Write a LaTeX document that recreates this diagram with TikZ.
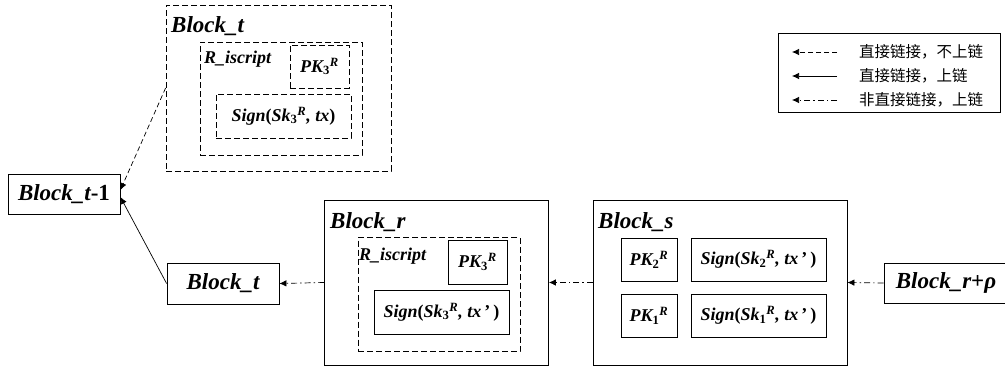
\documentclass[tikz,border=0pt]{standalone}
\usepackage{fontspec}
\setmainfont{Liberation Serif}
\newfontfamily\cjk{Noto Sans CJK SC}
\usetikzlibrary{arrows, arrows.meta}

\tikzset{
	blk/.style={draw, rectangle, line width=0.8pt, inner sep=0pt},
	dblk/.style={blk, dash pattern=on 6pt off 3pt},
	lbl/.style={inner sep=0pt, anchor=base west, font=\fontsize{23}{25}\selectfont\bfseries\itshape},
	sml/.style={font=\fontsize{18}{20}\selectfont\bfseries\itshape},
	big/.style={font=\fontsize{23}{25}\selectfont\bfseries\itshape},
	ddash/.style={line width=0.7pt, dash pattern=on 5pt off 3pt},
	dchain/.style={line width=0.7pt, dash pattern=on 6pt off 3pt on 1.5pt off 3pt},
	chain/.style={line width=0.7pt},
	legtxt/.style={inner sep=0pt, anchor=west, font=\fontsize{15.5}{17}\selectfont\cjk}
}
\newcommand{\keyrs}[2]{#1\textsubscript{\upshape #2}\textsuperscript{R}}

\begin{document}
\begin{tikzpicture}[x=1pt, y=-1pt, >={Latex[length=7pt, width=6.5pt]}]
	\useasboundingbox (0,0) rectangle (1005,367);
	
	% Block_t, not on chain
	\node (topblk) at (278.5,88) [dblk, minimum width=225pt, minimum height=166pt] {};
	\node (toplbl) at (171,32) [lbl] {Block\_t};
	\node (topscr) at (281,98.5) [dblk, minimum width=162pt, minimum height=113pt] {};
	\node (topscrlbl) at (204,63) [lbl, font=\fontsize{18}{20}\selectfont\bfseries\itshape] {R\_iscript};
	\node (toppk) at (319.5,66.5) [dblk, minimum width=59pt, minimum height=43pt, sml] {\keyrs{PK}{3}};
	\node (topsign) at (283.5,116) [dblk, minimum width=135pt, minimum height=44pt, sml] {Sign\upshape(\itshape\keyrs{Sk}{3}, tx\upshape)};
	
	% chain blocks
	\node (blkprev) at (64,194) [blk, minimum width=112pt, minimum height=40pt, big] {Block\_t\upshape-1};
	\node (blkt) at (223,283.5) [blk, minimum width=112pt, minimum height=41pt, big] {Block\_t};
	
	% Block_r
	\node (blkr) at (436.5,282.5) [blk, minimum width=224pt, minimum height=165pt] {};
	\node (blkrlbl) at (330,228) [lbl] {Block\_r};
	\node (rscr) at (439,294.5) [dblk, minimum width=162pt, minimum height=114pt] {};
	\node (rscrlbl) at (359,260) [lbl, font=\fontsize{18}{20}\selectfont\bfseries\itshape] {R\_iscript};
	\node (rpk) at (477.5,262) [blk, minimum width=59pt, minimum height=44pt, sml] {\keyrs{PK}{3}};
	\node (rsign) at (441.5,312) [blk, minimum width=135pt, minimum height=44pt, sml] {Sign\upshape(\itshape\keyrs{Sk}{3}, tx\,\upshape'\,)};
	
	% Block_s
	\node (blks) at (720,282.5) [blk, minimum width=254pt, minimum height=165pt] {};
	\node (blkslbl) at (598,228) [lbl] {Block\_s};
	\node (spk2) at (649,259.5) [blk, minimum width=56pt, minimum height=43pt, sml] {\keyrs{PK}{2}};
	\node (ssign2) at (758.5,259.5) [blk, minimum width=135pt, minimum height=43pt, sml] {Sign\upshape(\itshape\keyrs{Sk}{2}, tx\,\upshape'\,)};
	\node (spk1) at (649,315.5) [blk, minimum width=56pt, minimum height=43pt, sml] {\keyrs{PK}{1}};
	\node (ssign1) at (758.5,315.5) [blk, minimum width=135pt, minimum height=43pt, sml] {Sign\upshape(\itshape\keyrs{Sk}{1}, tx\,\upshape'\,)};
	
	\node (blkrho) at (946,283) [blk, minimum width=124pt, minimum height=40pt, big] {Block\_r\upshape+\itshape ρ};
	
	% links
	\draw [->, dchain] (blkrho.west) -- (blks.east);
	\draw [->, dchain] (blks.west) -- (blkr.east);
	\draw [->, dchain] (blkr.west) -- (blkt.east);
	\draw [->, chain] (blkt.west) -- ([yshift=-3pt]blkprev.east);
	\draw [->, ddash] (topblk.west) -- ([yshift=4pt]blkprev.east);
	
	% legend
	\node (legend) at (889,72.5) [blk, minimum width=222pt, minimum height=79pt] {};
	\coordinate (la1) at (837,52);  \coordinate (lb1) at (792,52);
	\coordinate (la2) at (837,76);  \coordinate (lb2) at (792,76);
	\coordinate (la3) at (837,100); \coordinate (lb3) at (792,100);
	\draw [->, ddash] (la1) -- (lb1);
	\draw [->, chain] (la2) -- (lb2);
	\draw [->, dchain] (la3) -- (lb3);
	\node (leg1) at (859,52) [legtxt] {直接链接，不上链};
	\node (leg2) at (859,76) [legtxt] {直接链接，上链};
	\node (leg3) at (859,100) [legtxt] {非直接链接，上链};
\end{tikzpicture}
\end{document}
